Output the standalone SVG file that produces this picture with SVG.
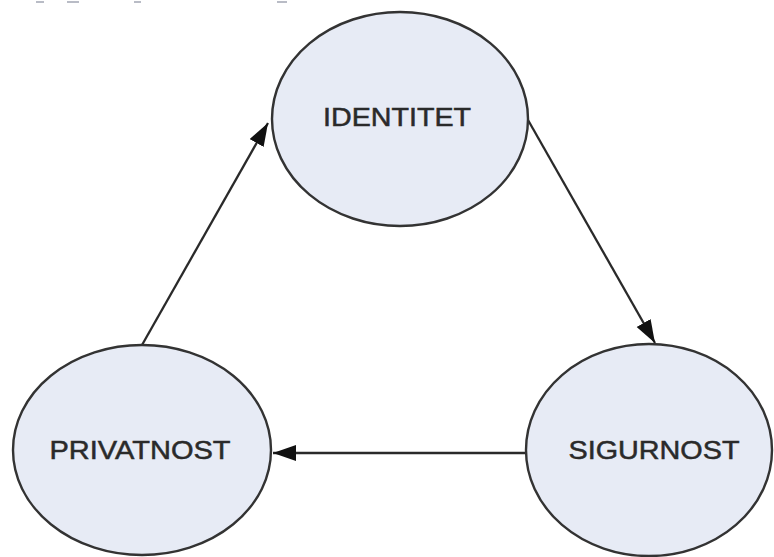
<svg xmlns="http://www.w3.org/2000/svg" width="774" height="557" viewBox="0 0 774 557">
  <style>
    .node { fill: #e7ebf5; stroke: #333333; stroke-width: 2.4; }
    .label { font-family: "Liberation Sans", Arial, sans-serif; font-size: 26px; fill: #2a2a2a; stroke: #2a2a2a; stroke-width: 0.5; text-anchor: middle; }
    .edge { stroke: #2a2a2a; stroke-width: 2.3; fill: none; marker-end: url(#arrow); }
    .frag { fill: #8a8fa0; opacity: 0.6; }
  </style>
  <defs>
    <marker id="arrow" markerUnits="userSpaceOnUse" markerWidth="26" markerHeight="18" refX="23" refY="8" orient="auto">
      <path d="M0,0 L23,8 L0,16 Z" fill="#111"/>
    </marker>
  </defs>
  <rect width="774" height="557" fill="#ffffff"/>
  <g id="fragments">
    <rect class="frag" x="36" y="1" width="8" height="2"/>
    <rect class="frag" x="67" y="1" width="12" height="2"/>
    <rect class="frag" x="134" y="1" width="7" height="2"/>
    <rect class="frag" x="277" y="1" width="10" height="2"/>
  </g>
  <g id="connectors">
    <line class="edge" x1="528" y1="120" x2="655" y2="343"/>
    <line class="edge" x1="526" y1="453" x2="273" y2="453"/>
    <line class="edge" x1="142" y1="345" x2="268" y2="123"/>
  </g>
  <g id="identitet">
    <ellipse class="node" cx="400" cy="119" rx="128" ry="107"/>
    <text class="label" x="397" y="126" textLength="148" lengthAdjust="spacingAndGlyphs">IDENTITET</text>
  </g>
  <g id="privatnost">
    <ellipse class="node" cx="142" cy="450" rx="129" ry="105"/>
    <text class="label" x="140" y="459" textLength="181" lengthAdjust="spacingAndGlyphs">PRIVATNOST</text>
  </g>
  <g id="sigurnost">
    <ellipse class="node" cx="649" cy="450" rx="123" ry="106"/>
    <text class="label" x="654" y="459" textLength="171" lengthAdjust="spacingAndGlyphs">SIGURNOST</text>
  </g>
</svg>
